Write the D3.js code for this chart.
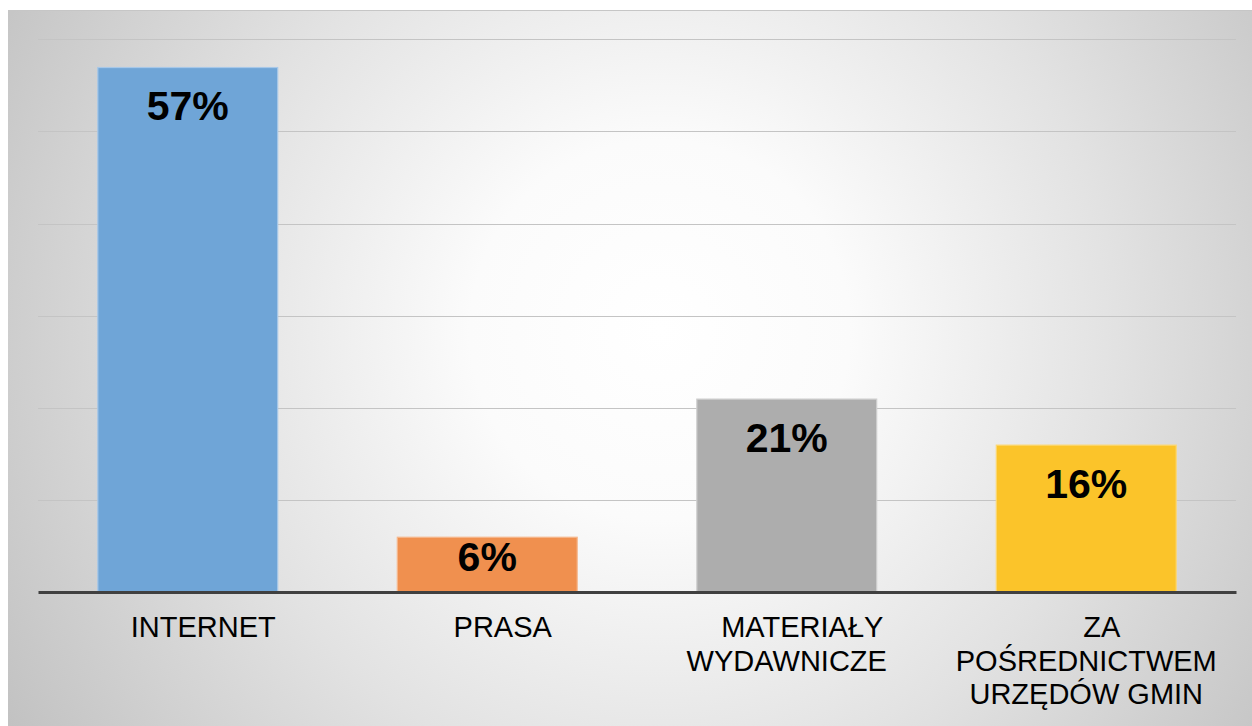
<!DOCTYPE html>
<html>
<head>
<meta charset="utf-8">
<script src="https://cdn.jsdelivr.net/npm/d3@7"></script>
<style>
  body { margin: 0; background: #fff; }
  svg { display: block; }
</style>
</head>
<body>
<script>
// data
var categories = ["INTERNET", "PRASA", "MATERIAŁY WYDAWNICZE", "ZA POŚREDNICTWEM URZĘDÓW GMIN"]
var labelLines = [["INTERNET"], ["PRASA"], ["MATERIAŁY", "WYDAWNICZE"], ["ZA", "POŚREDNICTWEM", "URZĘDÓW GMIN"]]
var values = [57, 6, 21, 16]
var gridTicks = [10, 20, 30, 40, 50, 60]
var colors = ["#6fa5d7", "#f0904f", "#adadad", "#fbc42a"]
var borders = ["#a7c8e8", "#f6b78d", "#cfcfcf", "#fcd873"]

var W = 1252, H = 726
var svg = d3.select("body").append("svg")
  .attr("width", W)
  .attr("height", H)

var defs = svg.append("defs")
var grad = defs.append("radialGradient")
  .attr("id", "bg")
  .attr("gradientUnits", "userSpaceOnUse")
  .attr("cx", 660).attr("cy", 330).attr("r", 760)
grad.append("stop").attr("offset", "0%").attr("stop-color", "#ffffff")
grad.append("stop").attr("offset", "25%").attr("stop-color", "#fbfbfb")
grad.append("stop").attr("offset", "60%").attr("stop-color", "#e2e2e2")
grad.append("stop").attr("offset", "100%").attr("stop-color", "#c2c2c2")

// chart area background
svg.append("rect")
  .attr("x", 8).attr("y", 10)
  .attr("width", W - 8).attr("height", H - 10)
  .attr("fill", "url(#bg)")
svg.append("line")
  .attr("x1", 8).attr("x2", W)
  .attr("y1", 10.5).attr("y2", 10.5)
  .attr("stroke", "#c6c6c6")

var left = 38, right = 1236, base = 592
var x = d3.scaleBand()
  .domain(categories)
  .range([left, right])
  .paddingInner(0.396)
  .paddingOuter(0.198)

var y = d3.scaleLinear()
  .domain([0, 60])
  .range([base, 39.4])

// gridlines
svg.append("g")
  .selectAll("line")
  .data(gridTicks)
  .enter()
  .append("line")
  .attr("x1", left)
  .attr("x2", right)
  .attr("y1", d => Math.round(y(d)) + 0.5)
  .attr("y2", d => Math.round(y(d)) + 0.5)
  .attr("stroke", "#c4c4c4")
  .style("stroke-width", "1.2px")

// bars
svg.append("g")
  .selectAll("rect")
  .data(values)
  .enter()
  .append("rect")
  .attr("x", (d, i) => x(categories[i]) + 0.5)
  .attr("y", d => y(d) + 0.5)
  .attr("width", x.bandwidth() - 1)
  .attr("height", d => base - y(d) - 0.5)
  .attr("fill", (d, i) => colors[i])
  .attr("stroke", (d, i) => borders[i])
  .style("stroke-width", "1.2px")

// value labels
svg.append("g")
  .selectAll("text")
  .data(values)
  .enter()
  .append("text")
  .attr("x", (d, i) => x(categories[i]) + x.bandwidth() / 2)
  .attr("y", d => Math.min(y(d) + 53, base - 21))
  .attr("text-anchor", "middle")
  .style("font-family", "'Liberation Sans', Arial, sans-serif")
  .style("font-weight", "bold")
  .style("font-size", "41px")
  .style("fill", "#000")
  .text(d => d + "%")

// baseline axis
var xAxis = d3.axisBottom(x).tickSize(0).tickFormat("")
var axisG = svg.append("g")
  .attr("transform", `translate(0,${base})`)
  .call(xAxis)
axisG.select(".domain")
  .attr("stroke", "#404040")
  .style("stroke-width", "3px")

// category labels (first line sits a bit right of centre in the original)
var cat = svg.append("g")
  .selectAll("text")
  .data(categories)
  .enter()
  .append("text")
  .attr("text-anchor", "middle")
  .style("font-family", "'Liberation Sans', Arial, sans-serif")
  .style("font-size", "29px")
  .style("fill", "#000")
cat.each(function(d, i) {
  var t = d3.select(this)
  labelLines[i].forEach(function(line, k) {
    t.append("tspan")
      .attr("x", x(d) + x.bandwidth() / 2 + (k == 0 ? 15.5 : 0))
      .attr("y", 637 + k * 33.5)
      .text(line)
  })
})
</script>
</body>
</html>
